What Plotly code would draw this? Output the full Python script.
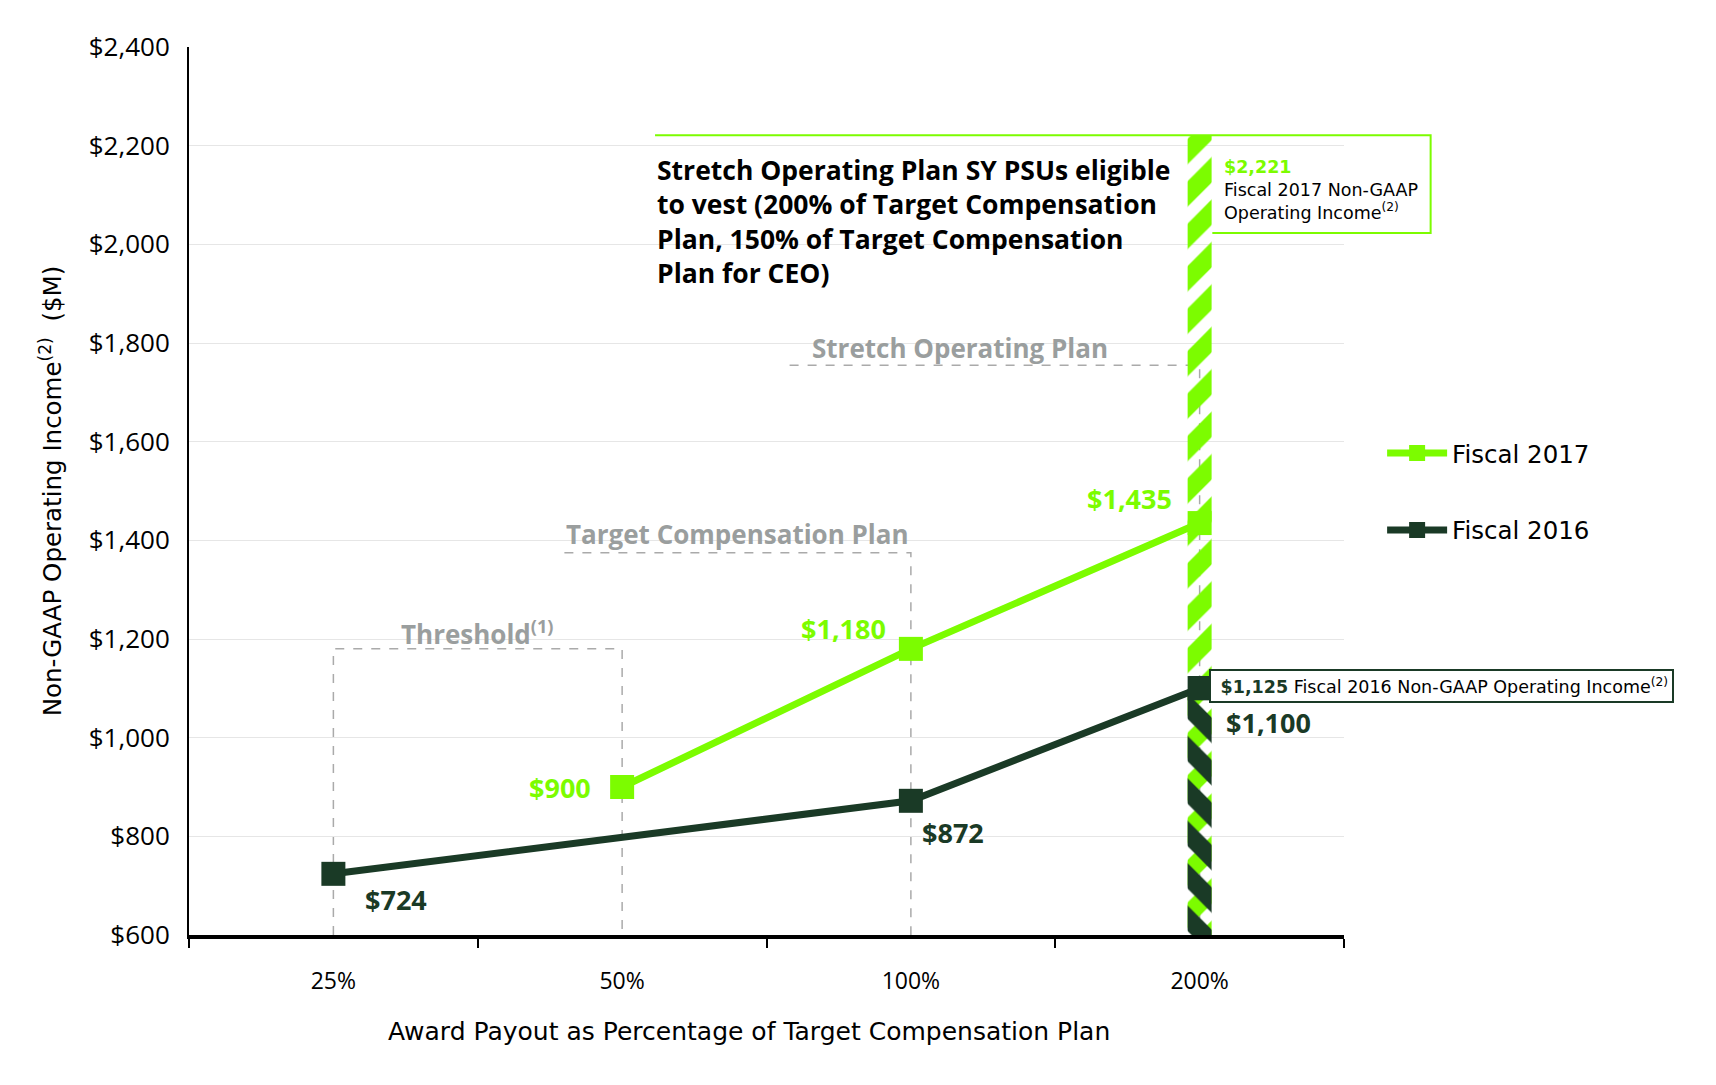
import plotly.graph_objects as go

# ---------------- data ----------------
categories = ["25%", "50%", "100%", "200%"]
fy2017 = [None, 900, 1180, 1435]
fy2016 = [724, None, 872, 1100]
fy2017_actual = 2221
fy2016_actual = 1125
y_ticks = [600, 800, 1000, 1200, 1400, 1600, 1800, 2000, 2200, 2400]
y_ticktext = [f"${v:,}" for v in y_ticks]
threshold_level = 1180
target_level = 1375
stretch_level = 1755

LIME = "#7CFC00"
DARK = "#1A3A26"
GREY = "#9A9E9E"
DASH = "#AAAAAA"
BFONT = "Open Sans"
TFONT = "Open Sans"
AFONT = "DejaVu Sans"

fig = go.Figure()

# hatched actual-income bars at 200%
fig.add_trace(go.Bar(
    x=[categories[3]], y=[fy2017_actual], width=0.083, showlegend=False,
    marker=dict(color="rgba(0,0,0,0)", opacity=1, line=dict(width=0),
                pattern=dict(shape="/", fgcolor=LIME, bgcolor="rgba(0,0,0,0)", size=30,
                             solidity=0.6, fgopacity=1)),
    hoverinfo="skip"))
fig.add_trace(go.Bar(
    x=[categories[3]], y=[fy2016_actual], width=0.083, showlegend=False,
    marker=dict(color="rgba(0,0,0,0)", opacity=1, line=dict(width=0),
                pattern=dict(shape="\\", fgcolor=DARK, bgcolor="rgba(0,0,0,0)", size=30,
                             solidity=0.6, fgopacity=1)),
    hoverinfo="skip"))

fig.add_trace(go.Scatter(
    x=categories, y=fy2017, name="Fiscal 2017", mode="lines+markers", connectgaps=True,
    line=dict(color=LIME, width=7), marker=dict(symbol="square", size=24, color=LIME),
    legendgroup="a"))
fig.add_trace(go.Scatter(
    x=categories, y=fy2016, name="Fiscal 2016", mode="lines+markers", connectgaps=True,
    line=dict(color=DARK, width=7), marker=dict(symbol="square", size=24, color=DARK),
    legendgroup="b"))

# ---------------- guide lines ----------------
dl = dict(color=DASH, width=1.5, dash="dash")
fig.add_shape(type="path", xref="x", yref="y", layer="below", line=dl,
              path=f"M 0,600 V {threshold_level} H 1 V 600")
fig.add_shape(type="path", xref="x", yref="y", layer="below", line=dl,
              path=f"M 0.8,{target_level} H 2 V 600")
fig.add_shape(type="path", xref="x", yref="y", layer="below", line=dl,
              path=f"M 1.58,{stretch_level} H 3 V 600")

gl = dict(family=BFONT, size=26, color=GREY, weight="bold")
fig.add_annotation(x=0.5, y=1213, xref="x", yref="y", text="Threshold<sup>(1)</sup>",
                   showarrow=False, font=gl)
fig.add_annotation(x=1.4, y=1413, xref="x", yref="y", text="Target Compensation Plan",
                   showarrow=False, font=gl)
fig.add_annotation(x=2.17, y=1790, xref="x", yref="y", text="Stretch Operating Plan",
                   showarrow=False, font=gl)

# callout text
fig.add_annotation(x=1.114, y=2192, xref="x", yref="y", xanchor="left", yanchor="top", align="left",
                   showarrow=False,
                   text="Stretch Operating Plan SY PSUs eligible<br>to vest (200% of Target Compensation<br>"
                        "Plan, 150% of Target Compensation<br>Plan for CEO)",
                   font=dict(family=BFONT, size=26.5, color="black", weight="bold"))

# green box (Fiscal 2017 actual)
fig.add_shape(type="path", xref="paper", yref="y", line=dict(color=LIME, width=2),
              path=f"M 0.4035,{fy2017_actual} H 1.075 V 2023 H 0.886")
fig.add_annotation(x=0.894, y=2181, xref="paper", yref="y", xanchor="left", yanchor="top",
                   align="left", showarrow=False,
                   text=f"<b><span style='color:{LIME}'>${fy2017_actual:,}</span></b><br>"
                        "Fiscal 2017 Non-GAAP<br>Operating Income<sup>(2)</sup>",
                   font=dict(family=AFONT, size=17.5, color="black"))

# dark box (Fiscal 2016 actual)
fig.add_annotation(x=0.883, y=1105, xref="paper", yref="y", xanchor="left", yanchor="middle",
                   showarrow=False, bgcolor="white", bordercolor=DARK, borderwidth=2, borderpad=4,
                   text=f"&nbsp;<b><span style='color:{DARK}'>${fy2016_actual:,}</span></b> "
                        "Fiscal 2016 Non-GAAP Operating Income<sup>(2)</sup>",
                   font=dict(family=AFONT, size=17.5, color="black"))

# ---------------- value labels ----------------
lab17 = {1: (-29, 0), 2: (-23, 20), 3: (-26, 25)}
lab16 = {0: (30, -26), 2: (9, -32), 3: (24, -34)}
for i, (dx, dy) in lab17.items():
    fig.add_annotation(x=i, y=fy2017[i], xref="x", yref="y", text=f"${fy2017[i]:,}",
                       showarrow=False, xanchor="right", xshift=dx, yshift=dy,
                       font=dict(family=BFONT, size=27, color=LIME, weight="bold"))
for i, (dx, dy) in lab16.items():
    fig.add_annotation(x=i, y=fy2016[i], xref="x", yref="y", text=f"${fy2016[i]:,}",
                       showarrow=False, xanchor="left", xshift=dx, yshift=dy,
                       font=dict(family=BFONT, size=27, color=DARK, weight="bold"))

# x-axis title (placed as annotation to match the reference's offset)
fig.add_annotation(x=0.4845, y=-0.109, xref="paper", yref="paper", xanchor="center",
                   yanchor="middle", showarrow=False,
                   text="Award Payout as Percentage of Target Compensation Plan",
                   font=dict(family=AFONT, size=25, color="black"))

fig.update_layout(
    width=1716, height=1085,
    margin=dict(l=181, r=380, t=39, b=158),
    plot_bgcolor="white", paper_bgcolor="white",
    barmode="overlay",
    showlegend=True,
    legend=dict(x=1.033, y=0.568, xanchor="left", yanchor="top", traceorder="grouped",
                tracegroupgap=42, itemwidth=60,
                font=dict(family=AFONT, size=24.5, color="black"), bgcolor="rgba(0,0,0,0)"),
    xaxis=dict(type="category", categoryorder="array", categoryarray=categories,
               range=[-0.5, 3.5], showline=True, linecolor="black", linewidth=4,
               ticks="outside", tickson="boundaries", ticklen=9, tickwidth=2, tickcolor="black",
               showgrid=False, ticklabelstandoff=22,
               tickfont=dict(family=TFONT, size=23, color="black")),
    yaxis=dict(range=[600, 2400], tickmode="array", tickvals=y_ticks, ticktext=y_ticktext,
               showline=True, linecolor="black", linewidth=2, ticks="",
               showgrid=True, gridcolor="#E6E6E6", gridwidth=1, zeroline=False,
               ticklabelstandoff=12,
               tickfont=dict(family=TFONT, size=26, color="black"),
               title=dict(text="Non-GAAP Operating Income<sup>(2)</sup>  ($M)",
                          font=dict(family=AFONT, size=24.5, color="black"), standoff=20)),
)

fig.write_html("out.html")
